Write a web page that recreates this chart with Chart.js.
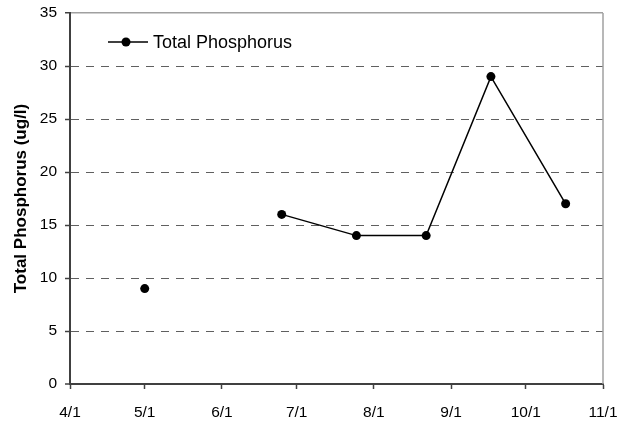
<!DOCTYPE html>
<html>
<head>
<meta charset="utf-8">
<script src="https://cdn.jsdelivr.net/npm/chart.js@4"></script>
<style>
  html, body { margin: 0; padding: 0; background: #fff; }
  #wrap { width: 636px; height: 425px; }
</style>
</head>
<body>
<div id="wrap"><canvas id="tpChart" width="636" height="425"></canvas></div>
<script>
const seriesLabel = 'Total Phosphorus';
const axisTitle = 'Total Phosphorus (ug/l)';
const sampleDates = ['5/1', '6/25', '7/25', '8/22', '9/17', '10/17'];
const phosphorus = [9, 16, 14, 14, 29, 17];
const monthTicks = ['4/1', '5/1', '6/1', '7/1', '8/1', '9/1', '10/1', '11/1'];
const yMin = 0, yMax = 35, yStep = 5;

const FONT = 'Arial, "Liberation Sans", sans-serif';

// days counted from 4/1
const dayOf = (md) => {
    const [m, d] = md.split('/').map(Number);
    return (Date.UTC(2001, m - 1, d) - Date.UTC(2001, 3, 1)) / 86400000;
};

// right border + legend drawn inside the plot
const frameAndLegend = {
    id: 'frameAndLegend',
    afterDraw(chart) {
        const { ctx, chartArea: a } = chart;
        const ds = chart.data.datasets[0];
        ctx.save();
        ctx.strokeStyle = '#a0a0a0';
        ctx.lineWidth = 1.5;
        ctx.beginPath();
        ctx.moveTo(a.right, a.top);
        ctx.lineTo(a.right, a.bottom);
        ctx.stroke();

        const y = a.top + 29;
        const x0 = a.left + 38;
        ctx.strokeStyle = ds.borderColor;
        ctx.lineWidth = ds.borderWidth;
        ctx.beginPath();
        ctx.moveTo(x0, y);
        ctx.lineTo(x0 + 40, y);
        ctx.stroke();
        ctx.fillStyle = ds.pointBackgroundColor;
        ctx.beginPath();
        ctx.arc(x0 + 18, y, ds.pointRadius, 0, Math.PI * 2);
        ctx.fill();
        ctx.font = '18px ' + FONT;
        ctx.textBaseline = 'middle';
        ctx.fillStyle = '#000';
        ctx.fillText(ds.label, x0 + 45, y + 1);
        ctx.restore();
    }
};

const ctx = document.getElementById('tpChart').getContext('2d');
new Chart(ctx, {
    type: 'line',
    data: {
        datasets: [{
            label: seriesLabel,
            data: sampleDates.map((d, i) => ({ x: dayOf(d), y: phosphorus[i] })),
            borderColor: '#000',
            borderWidth: 1.5,
            pointRadius: 4.5,
            pointHoverRadius: 4.5,
            pointBackgroundColor: '#000',
            pointBorderWidth: 0,
            tension: 0,
            spanGaps: 40 // no sample in early June, so the line breaks there
        }]
    },
    options: {
        responsive: false,
        animation: false,
        devicePixelRatio: 1,
        layout: { padding: { left: 0, top: 13, right: 33, bottom: 0 } },
        plugins: {
            legend: { display: false },
            tooltip: { enabled: false }
        },
        scales: {
            x: {
                type: 'linear',
                min: dayOf(monthTicks[0]),
                max: dayOf(monthTicks[monthTicks.length - 1]),
                afterBuildTicks: (scale) => {
                    scale.ticks = monthTicks.map(t => ({ value: dayOf(t) }));
                },
                afterFit: (scale) => { scale.height = 41; },
                ticks: {
                    autoSkip: false,
                    maxRotation: 0,
                    padding: 14,
                    color: '#000',
                    font: { family: FONT, size: 15.5 },
                    callback: (v) => monthTicks.find(t => dayOf(t) === v) || ''
                },
                grid: {
                    drawOnChartArea: false,
                    tickLength: 5,
                    tickColor: '#404040',
                    tickWidth: 1.5
                },
                border: { color: '#404040', width: 2 }
            },
            y: {
                min: yMin,
                max: yMax,
                afterFit: (scale) => {
                    scale.width = 70;
                    scale.paddingTop = 0;
                    scale.paddingBottom = 0;
                },
                ticks: {
                    stepSize: yStep,
                    padding: 8,
                    color: '#000',
                    font: { family: FONT, size: 15.5 }
                },
                grid: {
                    color: (c) => c.tick && c.tick.value === yMax ? '#a0a0a0' : '#606060',
                    lineWidth: (c) => c.tick && c.tick.value === yMin ? 0 : (c.tick && c.tick.value === yMax ? 1.5 : 1),
                    tickLength: 5,
                    tickColor: '#404040',
                    tickWidth: 1.5,
                    tickBorderDash: []
                },
                border: {
                    color: '#404040',
                    width: 2,
                    dash: (c) => c.tick && c.tick.value !== yMax ? [8, 7] : []
                },
                title: {
                    display: true,
                    text: axisTitle,
                    color: '#000',
                    font: { family: FONT, size: 17, weight: 'bold' },
                    padding: { top: 11, bottom: 0 }
                }
            }
        }
    },
    plugins: [frameAndLegend]
});
</script>
</body>
</html>
